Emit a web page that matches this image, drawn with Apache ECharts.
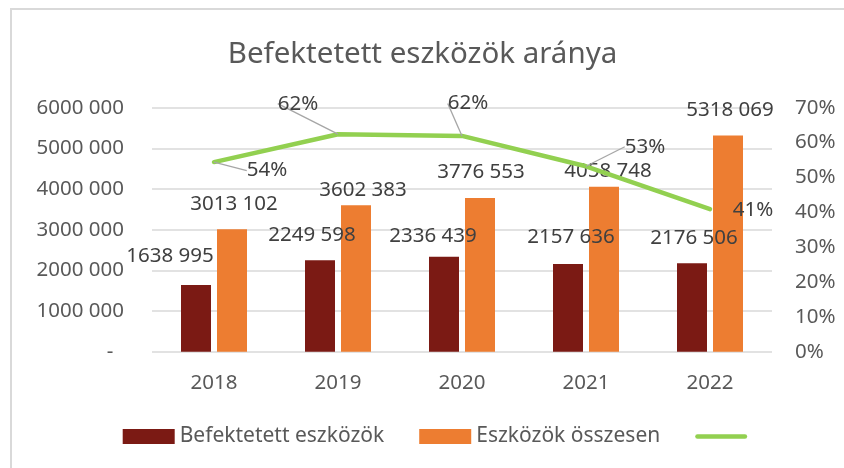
<!DOCTYPE html>
<html>
<head>
<meta charset="utf-8">
<script src="https://cdn.jsdelivr.net/npm/echarts@6/dist/echarts.min.js"></script>
<style>
html,body{margin:0;padding:0;background:#fff;}
#chart{width:844px;height:468px;}
</style>
</head>
<body>
<div id="chart"></div>
<script>
var titleText = 'Befektetett eszközök aránya';
var categories = ['2018', '2019', '2020', '2021', '2022'];
var seriesNames = ['Befektetett eszközök', 'Eszközök összesen', 'arány'];
var befektetett = [1638995, 2249598, 2336439, 2157636, 2176506];
var osszesen = [3013102, 3602383, 3776553, 4058748, 5318069];
var arany = [0.544, 0.624, 0.619, 0.532, 0.409];
var leftTicks = { min: 0, max: 6000000, interval: 1000000 };
var rightTicks = { min: 0, max: 0.7, interval: 0.1 };

// label nudges (styling, pixels)
var darkLabelShift = [[-26, -3], [-8, 0], [-11, 5], [3, -1], [2, 0]];
var orangeLabelShift = [[2, 0], [7, 10], [1, 0], [4, 10], [2, 0]];
var lineLabelShift = [[53, 19], [-40, -20], [6, -22], [59, -9], [43, 12]];

var FONT = 'Noto Sans';
var FS = 20.5;

function fmtNum(v) {
  if (v === 0) return '-  ';
  var s = String(Math.round(v));
  if (s.length <= 3) return s;
  return s.slice(0, -3) + ' ' + s.slice(-3);
}

var chart = echarts.init(document.getElementById('chart'), null, { renderer: 'canvas' });
var option = {
  backgroundColor: '#fff',
  animation: false,
  title: {
    text: titleText,
    left: 417.5,
    textAlign: 'center',
    top: 35,
    textStyle: { fontFamily: FONT, fontSize: 29.5, fontWeight: 'normal', color: '#595959' }
  },
  graphic: [{
    type: 'rect',
    shape: { x: 11, y: 9, width: 900, height: 600 },
    style: { fill: 'none', stroke: '#d9d9d9', lineWidth: 2 },
    silent: true
  }],
  legend: {
    left: 122.7,
    top: 426,
    padding: 0,
    itemWidth: 52,
    itemHeight: 15,
    itemGap: 35,
    textStyle: { fontFamily: FONT, fontSize: 21, color: '#595959' },
    formatter: function (name) { return name === 'arány' ? '' : name; },
    data: [
      { name: seriesNames[0], icon: 'rect' },
      { name: seriesNames[1], icon: 'rect' },
      { name: seriesNames[2], icon: 'path://M2.5,0 H54.5 A2.5,2.5 0 0 1 54.5,5 H2.5 A2.5,2.5 0 0 1 2.5,0 Z' }
    ]
  },
  grid: { left: 152, right: 72, top: 107.7, bottom: 116.3, containLabel: false },
  xAxis: {
    type: 'category',
    data: categories,
    axisLine: { show: false },
    axisTick: { show: false },
    axisLabel: { fontFamily: FONT, fontSize: FS, color: '#595959', margin: 21 }
  },
  yAxis: [{
    type: 'value',
    min: leftTicks.min, max: leftTicks.max, interval: leftTicks.interval,
    axisLine: { show: false },
    axisTick: { show: false },
    splitLine: { lineStyle: { color: '#d9d9d9', width: 1.6 } },
    axisLabel: { fontFamily: FONT, fontSize: FS, color: '#595959', margin: 28, formatter: fmtNum }
  }, {
    type: 'value',
    min: rightTicks.min, max: rightTicks.max, interval: rightTicks.interval,
    position: 'right',
    axisLine: { show: false },
    axisTick: { show: false },
    splitLine: { show: false },
    axisLabel: { fontFamily: FONT, fontSize: FS, color: '#595959', margin: 23,
      formatter: function (v) { return Math.round(v * 100) + '%'; } }
  }],
  series: [{
    name: seriesNames[0],
    type: 'bar',
    data: befektetett,
    barWidth: 30,
    barGap: '20%',
    itemStyle: { color: '#7B1A14' },
    label: {
      show: true, position: 'top', distance: 15,
      fontFamily: FONT, fontSize: FS, color: '#404040',
      formatter: function (p) { return fmtNum(p.value); }
    },
    labelLayout: function (p) { var s = darkLabelShift[p.dataIndex]; return { dx: s[0], dy: s[1] }; },
    z: 2
  }, {
    name: seriesNames[1],
    type: 'bar',
    data: osszesen,
    barWidth: 30,
    barGap: '20%',
    itemStyle: { color: '#ED7D31' },
    label: {
      show: true, position: 'top', distance: 15,
      fontFamily: FONT, fontSize: FS, color: '#404040',
      formatter: function (p) { return fmtNum(p.value); }
    },
    labelLayout: function (p) { var s = orangeLabelShift[p.dataIndex]; return { dx: s[0], dy: s[1] }; },
    z: 2
  }, {
    name: seriesNames[2],
    type: 'line',
    yAxisIndex: 1,
    data: arany.map(function (v, i) {
      return i === 4 ? { value: v, labelLine: { show: false } } : v;
    }),
    symbol: 'circle',
    symbolSize: 0,
    showSymbol: true,
    lineStyle: { color: '#92D050', width: 4.5, cap: 'round', join: 'round' },
    itemStyle: { color: '#92D050' },
    label: {
      show: true, position: 'top', distance: 0,
      fontFamily: FONT, fontSize: FS, color: '#404040',
      formatter: function (p) { return Math.round(p.value * 100) + '%'; }
    },
    labelLine: { show: true, lineStyle: { color: '#a6a6a6', width: 1.3 } },
    labelLayout: function (p) { var s = lineLabelShift[p.dataIndex]; return { dx: s[0], dy: s[1] }; },
    z: 5
  }]
};
chart.setOption(option);
</script>
</body>
</html>
